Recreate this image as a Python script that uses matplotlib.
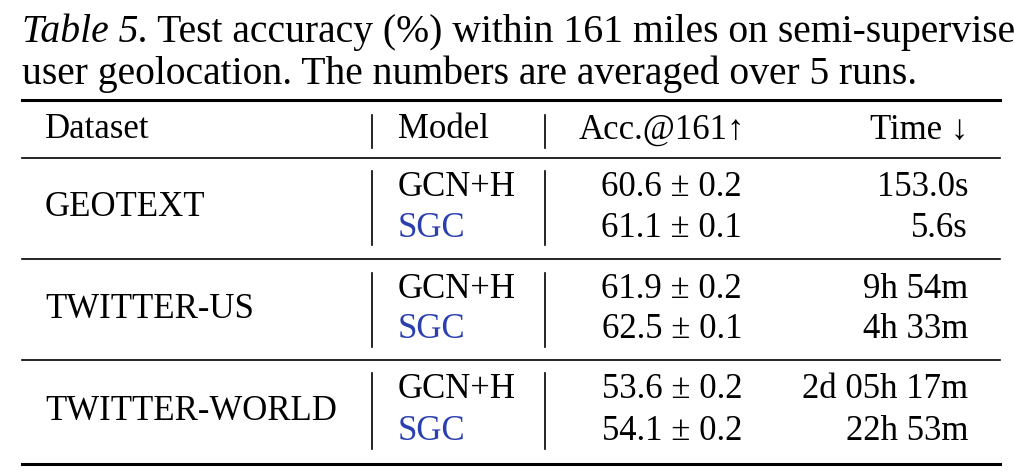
import matplotlib.pyplot as plt
from matplotlib.lines import Line2D

W, H = 1014, 474
datasets = ["GEOTEXT", "TWITTER-US", "TWITTER-WORLD"]
models = ["GCN+H", "SGC"]
acc_mean = [[60.6, 61.1], [61.9, 62.5], [53.6, 54.1]]
acc_std = [[0.2, 0.1], [0.2, 0.1], [0.2, 0.2]]
times = [["153.0s", "5.6s"], ["9h 54m", "4h 33m"], ["2d 05h 17m", "22h 53m"]]

plt.rcParams['font.family'] = ['Liberation Serif', 'DejaVu Serif']
fig = plt.figure(figsize=(W / 100, H / 100), dpi=100)
ax = fig.add_axes([0, 0, 1, 1])
ax.set_xlim(0, W)
ax.set_ylim(H, 0)
ax.axis("off")

fs = 25
tfs = 28.5
blue = "#2a3fb0"

def hline(y, lw):
    ax.add_line(Line2D([22, 1000], [y, y], color="black", lw=lw))

def vsep(y0, y1):
    for x in (372, 545):
        ax.add_line(Line2D([x, x], [y0, y1], color="black", lw=1.2))

t = ax.text(22, 42, "Table 5.", fontsize=tfs, style="italic", va="baseline")
ax.annotate(" Test accuracy (%) within 161 miles on semi-supervised",
            xy=(1, 0), xycoords=t, fontsize=tfs, va="bottom")
ax.text(22, 84, "user geolocation. The numbers are averaged over 5 runs.",
        fontsize=tfs, va="baseline")

hline(100, 2.2)
ax.text(45, 130, "Dataset", fontsize=fs, va="center")
ax.text(398, 130, "Model", fontsize=fs, va="center")
ax.text(745, 130, "Acc.@161↑", fontsize=fs, va="center", ha="right")
ax.text(968, 130, "Time ↓", fontsize=fs, va="center", ha="right")
vsep(115, 148)
hline(158, 1.2)

group_y = [(188, 228), (290, 330), (390, 432)]
for i, name in enumerate(datasets):
    y1, y2 = group_y[i]
    ax.text(45, (y1 + y2) / 2, name, fontsize=fs, va="center")
    vsep(y1 - 17, y2 + 17)
    for j, y in enumerate((y1, y2)):
        ax.text(398, y, models[j], fontsize=fs, va="center",
                color=blue if models[j] == "SGC" else "black")
        ax.text(742, y, f"{acc_mean[i][j]:.1f} ± {acc_std[i][j]:.1f}",
                fontsize=fs, va="center", ha="right")
        ax.text(968, y, times[i][j], fontsize=fs, va="center", ha="right")
    if i < 2:
        hline((y2 + group_y[i + 1][0]) / 2, 1.2)

hline(464, 2.2)
fig.savefig("out.png", dpi=100)
